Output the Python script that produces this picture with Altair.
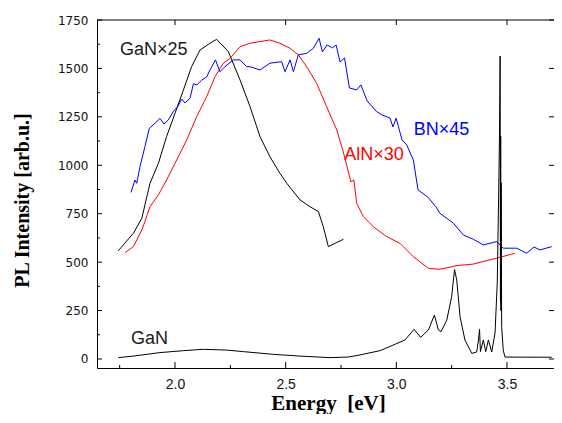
import altair as alt
import pandas as pd

# ---------------- data ----------------
gan25_x = [1.744, 1.812, 1.850, 1.887, 1.925, 1.962, 2.000, 2.038, 2.075, 2.113, 2.158, 2.188,
           2.241, 2.294, 2.339, 2.384, 2.429, 2.474, 2.505, 2.565, 2.610, 2.648, 2.670, 2.693,
           2.723, 2.761]
gan25_y = [559, 649, 726, 907, 1010, 1148, 1268, 1389, 1509, 1595, 1630, 1650,
           1587, 1440, 1303, 1148, 1044, 959, 907, 821, 786, 761, 683, 580,
           597, 618]

aln_x = [1.774, 1.812, 1.850, 1.864, 1.887, 1.925, 1.962, 2.000, 2.023, 2.053, 2.098, 2.143,
         2.181, 2.218, 2.249, 2.294, 2.339, 2.429, 2.474, 2.520, 2.557, 2.595, 2.640, 2.685,
         2.731, 2.758, 2.773, 2.795, 2.808, 2.821, 2.851, 2.896, 2.957, 3.017, 3.077, 3.145,
         3.197, 3.273, 3.348, 3.409, 3.469, 3.536]
aln_y = [549, 580, 666, 709, 786, 847, 924, 1010, 1062, 1131, 1251, 1354,
         1458, 1527, 1552, 1612, 1630, 1647, 1630, 1604, 1570, 1509, 1423, 1303,
         1182, 1079, 1012, 914, 924, 804, 735, 683, 631, 597, 528, 468,
         463, 482, 490, 508, 525, 546]

bn_x = [1.801, 1.819, 1.827, 1.842, 1.864, 1.884, 1.910, 1.932, 1.950, 1.970, 1.992, 2.014,
        2.030, 2.045, 2.068, 2.083, 2.099, 2.121, 2.143, 2.158, 2.183, 2.203, 2.226, 2.263,
        2.294, 2.324, 2.339, 2.384, 2.429, 2.482, 2.497, 2.520, 2.535, 2.557, 2.595, 2.625,
        2.651, 2.666, 2.687, 2.712, 2.728, 2.746, 2.766, 2.788, 2.821, 2.840, 2.868, 2.911,
        2.935, 2.971, 2.985, 2.999, 3.026, 3.047, 3.077, 3.098, 3.142, 3.179, 3.197, 3.258,
        3.303, 3.348, 3.393, 3.454, 3.483, 3.544, 3.589, 3.622, 3.649, 3.702]
bn_y = [860, 924, 907, 993, 1096, 1191, 1217, 1242, 1213, 1234, 1277, 1306,
        1342, 1322, 1346, 1420, 1415, 1440, 1456, 1492, 1544, 1483, 1509, 1544,
        1544, 1509, 1509, 1492, 1527, 1535, 1483, 1544, 1483, 1570, 1578, 1604,
        1656, 1585, 1621, 1606, 1621, 1533, 1554, 1399, 1389, 1415, 1332, 1277,
        1260, 1244, 1198, 1243, 1131, 1105, 1027, 873, 836, 786, 752, 701,
        640, 618, 589, 606, 572, 572, 546, 578, 563, 580]

gan_x = [1.744, 1.812, 1.932, 2.038, 2.128, 2.234, 2.309, 2.444, 2.565, 2.700, 2.783, 2.836,
         2.926, 2.986, 3.039, 3.080, 3.110, 3.145, 3.172, 3.190, 3.202, 3.228, 3.250, 3.263,
         3.273, 3.288, 3.310, 3.341, 3.363, 3.371, 3.376, 3.380, 3.393, 3.404, 3.416, 3.431,
         3.446, 3.456, 3.462, 3.466, 3.469, 3.4705, 3.4715, 3.4725, 3.4735, 3.476, 3.483,
         3.491, 3.702]
gan_y = [7, 15, 33, 43, 50, 46, 38, 24, 15, 7, 10, 21,
         43, 72, 98, 153, 112, 150, 227, 150, 141, 201, 322, 462,
         408, 218, 98, 29, 36, 98, 153, 38, 98, 38, 98, 36,
         134, 392, 821, 1151, 1564, 300, 1151, 250, 909, 167, 46,
         10, 9]

series_names = ["GaN×25", "AlN×30", "BN×45", "GaN"]
series_colors = ["#000000", "#ff0000", "#0000ff", "#000000"]

label_text = ["GaN×25", "AlN×30", "BN×45", "GaN"]
label_x = [1.7515, 2.765, 3.0785, 1.801]
label_y = [1569, 1027, 1156, 79]
label_color = ["#1a1a1a", "#ff0000", "#0000ff", "#1a1a1a"]

x_major = [2.0, 2.5, 3.0, 3.5]
x_minor = [1.75, 2.25, 2.75, 3.25]
y_major = [0, 250, 500, 750, 1000, 1250, 1500, 1750]
y_minor = [125, 375, 625, 875, 1125, 1375, 1625]

# ---------------- build tables ----------------
rows = []
for name, xs, ys in zip(series_names, [gan25_x, aln_x, bn_x, gan_x], [gan25_y, aln_y, bn_y, gan_y]):
    for i, (a, b) in enumerate(zip(xs, ys)):
        rows.append({"series": name, "energy": a, "pl": b, "idx": i})
df = pd.DataFrame(rows)
labels = pd.DataFrame({"t": label_text, "energy": label_x, "pl": label_y, "c": label_color})

W, H = 457, 348
xscale = alt.Scale(domain=[1.6476, 3.7124], nice=False, zero=False)
yscale = alt.Scale(domain=[-46.5, 1750], nice=False, zero=False)

xaxis = alt.Axis(values=x_major, format=".1f", title="Energy\u00a0 [eV]", grid=False,
                 ticks=False, tickSize=0, labelPadding=9, labelFont="Liberation Sans",
                 labelFontSize=14, labelColor="#111111", domainColor="#000000",
                 titleFont="Liberation Serif", titleFontWeight="bold", titleFontSize=21,
                 titleColor="#000000", titleX=231, titleY=41, titleBaseline="alphabetic",
                 titleAlign="center")
yaxis = alt.Axis(values=y_major, format="d", title="PL Intensity [arb.u.]", grid=False,
                 ticks=False, tickSize=0, labelPadding=9, labelFont="DejaVu Sans",
                 labelFontSize=12, labelColor="#111111", domainColor="#000000",
                 titleFont="Liberation Serif", titleFontWeight="bold", titleFontSize=20,
                 titleColor="#000000", titleAngle=270, titleX=-69, titleY=180,
                 titleBaseline="alphabetic", titleAlign="center")

X = lambda f: alt.X(f, scale=xscale, axis=xaxis)
Y = lambda f: alt.Y(f, scale=yscale, axis=yaxis)

lines = alt.Chart(df).mark_line(strokeWidth=1, clip=True).encode(
    x=X("energy:Q"),
    y=Y("pl:Q"),
    color=alt.Color("series:N", scale=alt.Scale(domain=series_names, range=series_colors), legend=None),
    order="idx:Q",
)

texts = alt.Chart(labels).mark_text(align="left", baseline="alphabetic", font="Liberation Sans",
                                    fontSize=18).encode(
    x=X("energy:Q"),
    y=Y("pl:Q"),
    text="t:N",
    color=alt.Color("c:N", scale=None),
)

def xt(vals, y1, y2):
    return alt.Chart(pd.DataFrame({"energy": vals})).mark_rule(color="#000000", strokeWidth=1).encode(
        x=X("energy:Q"), y=alt.value(y1), y2=alt.value(y2))

def yt(vals, x1, x2):
    return alt.Chart(pd.DataFrame({"pl": vals})).mark_rule(color="#000000", strokeWidth=1).encode(
        y=Y("pl:Q"), x=alt.value(x1), x2=alt.value(x2))

top_line = alt.Chart(pd.DataFrame({"v": [0]})).mark_rule(color="#000000", strokeWidth=1).encode(
    x=alt.value(0), x2=alt.value(W), y=alt.value(0))

chart = alt.layer(
    lines,
    xt(x_major, H, H - 6), xt(x_minor, H, H - 3), xt(x_major, 0, 5),
    yt(y_major, 0, 5), yt(y_minor, 0, 3), yt(y_major, W, W - 5),
    top_line,
    texts,
).properties(
    width=W, height=H,
    padding={"left": 89, "top": 12, "right": 0, "bottom": 46},
    autosize=alt.AutoSizeParams(type="none"),
    background="white",
).configure_view(stroke=None)

chart.save("out.html", embed_options={"renderer": "svg", "actions": False})
